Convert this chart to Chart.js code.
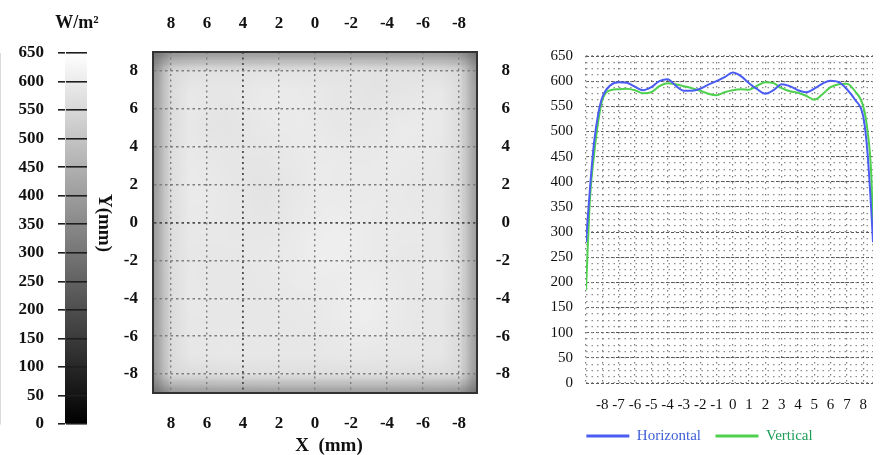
<!DOCTYPE html>
<html>
<head>
<meta charset="utf-8">
<script src="https://cdn.jsdelivr.net/npm/chart.js@4.4.1/dist/chart.umd.min.js"></script>
<style>
  html, body { margin: 0; padding: 0; background: #fff; }
  body { width: 880px; height: 455px; position: relative; overflow: hidden; }
  canvas { position: absolute; }
  #skala { left: 0; top: 0; }
  #mapa { left: 88px; top: 0; }
  #profil { left: 520px; top: 30px; }
</style>
</head>
<body>
<canvas id="skala" width="100" height="455"></canvas>
<canvas id="mapa" width="422" height="455"></canvas>
<canvas id="profil" width="360" height="425"></canvas>
<script>
// irradiance scale (W/m2)
const scaleMax = 650;
const scaleStep = 50;

// heat map, positions in mm, X runs 9 -> -9 (left to right), Y runs 9 -> -9 (top to bottom)
const mapTicks = [-8, -6, -4, -2, 0, 2, 4, 6, 8];
const mapX = [9, 8, 7, 6, 5, 4, 3, 2, 1, 0, -1, -2, -3, -4, -5, -6, -7, -8, -9];
const mapY = [9, 8, 7, 6, 5, 4, 3, 2, 1, 0, -1, -2, -3, -4, -5, -6, -7, -8, -9];
const mapValues = [
  [280, 370, 385, 390, 390, 392, 392, 392, 392, 392, 392, 392, 392, 392, 390, 390, 385, 370, 280],
  [370, 555, 570, 575, 575, 578, 580, 580, 580, 580, 580, 580, 580, 578, 578, 575, 570, 555, 370],
  [385, 560, 592, 590, 588, 592, 596, 598, 596, 594, 590, 586, 582, 582, 586, 590, 592, 562, 385],
  [388, 562, 594, 588, 584, 590, 596, 600, 598, 594, 590, 588, 586, 588, 592, 596, 594, 564, 388],
  [388, 564, 592, 584, 580, 586, 592, 596, 598, 596, 592, 590, 590, 594, 598, 598, 594, 564, 388],
  [390, 566, 594, 590, 586, 586, 588, 592, 596, 598, 596, 594, 594, 596, 598, 596, 592, 564, 390],
  [390, 566, 596, 594, 590, 586, 584, 588, 594, 598, 598, 596, 596, 598, 596, 594, 590, 564, 390],
  [390, 566, 598, 596, 592, 586, 580, 584, 592, 598, 600, 598, 596, 596, 594, 592, 590, 564, 390],
  [390, 566, 596, 596, 592, 588, 582, 586, 594, 600, 602, 600, 598, 596, 594, 592, 590, 564, 390],
  [390, 566, 594, 594, 592, 590, 588, 590, 596, 602, 606, 604, 600, 598, 596, 594, 592, 566, 390],
  [390, 566, 592, 592, 592, 592, 592, 594, 600, 606, 610, 606, 600, 596, 594, 594, 592, 566, 390],
  [390, 566, 592, 590, 590, 592, 594, 596, 600, 606, 608, 604, 598, 594, 592, 594, 594, 566, 390],
  [390, 564, 594, 590, 588, 590, 592, 594, 598, 600, 602, 604, 604, 600, 594, 594, 594, 566, 390],
  [388, 564, 594, 592, 588, 588, 590, 592, 594, 596, 600, 606, 608, 602, 594, 592, 592, 564, 388],
  [388, 562, 592, 592, 590, 588, 588, 590, 592, 594, 598, 604, 606, 600, 594, 590, 590, 562, 388],
  [386, 560, 590, 592, 592, 590, 588, 588, 590, 592, 594, 598, 598, 596, 592, 590, 588, 560, 386],
  [384, 558, 588, 590, 592, 592, 590, 588, 588, 590, 592, 592, 592, 590, 590, 588, 586, 558, 384],
  [370, 552, 560, 564, 566, 568, 568, 568, 568, 568, 568, 568, 568, 568, 566, 564, 560, 552, 370],
  [280, 370, 382, 386, 388, 388, 390, 390, 390, 390, 390, 390, 390, 390, 388, 386, 382, 370, 280]
];

// profiles through the centre of the spot
const profileTicks = [-9, -8, -7, -6, -5, -4, -3, -2, -1, 0, 1, 2, 3, 4, 5, 6, 7, 8];
const profileX = [-9, -8.75, -8.5, -8.25, -8, -7.5, -7, -6.5, -6, -5.5, -5, -4.5, -4, -3.5, -3, -2.5, -2, -1.5, -1, -0.5,
  0, 0.5, 1, 1.5, 2, 2.5, 3, 3.5, 4, 4.5, 5, 5.5, 6, 6.5, 7, 7.5, 8, 8.25, 8.5, 8.6];
const horizontal = [280, 390, 480, 535, 568, 592, 598, 597, 589, 582, 588, 600, 604, 591, 581, 581, 585, 593, 600, 608,
  617, 610, 596, 584, 575, 582, 594, 590, 582, 578, 585, 595, 601, 598, 584, 563, 530, 463, 340, 280];
const vertical = [185, 370, 455, 520, 562, 582, 584, 585, 582, 576, 578, 590, 596, 594, 590, 586, 581, 575, 572, 578,
  582, 584, 583, 591, 598, 596, 586, 580, 577, 571, 563, 574, 588, 594, 595, 580, 550, 505, 410, 300];
const seriesNames = ['Horizontal', 'Vertical'];
const seriesColors = ['#4b5cf2', '#4fd14f'];
const legendTextColors = ['#3f5fd6', '#1f9e5a'];

const serif = "'Liberation Serif', 'Times New Roman', serif";

function gray(v) {
  const c = Math.round(Math.max(0, Math.min(1, v / scaleMax)) * 255);
  return 'rgb(' + c + ',' + c + ',' + c + ')';
}

// free text drawn on top of a chart (units, axis names)
const freeText = {
  id: 'freeText',
  afterDraw(chart, args, opts) {
    const ctx = chart.ctx;
    (opts.items || []).forEach(t => {
      ctx.save();
      ctx.font = t.font;
      ctx.fillStyle = t.color || '#111';
      ctx.textAlign = 'center';
      ctx.textBaseline = 'middle';
      ctx.translate(t.x, t.y);
      if (t.rotate) ctx.rotate(t.rotate);
      ctx.fillText(t.text, 0, 0);
      ctx.restore();
    });
  }
};

//------------------------------ colour scale
new Chart(document.getElementById('skala'), {
  type: 'bar',
  data: {
    labels: [''],
    datasets: [{
      data: [scaleMax],
      backgroundColor: (c) => {
        const chart = c.chart;
        if (!chart.chartArea) return '#888';
        const y = chart.scales.y;
        const g = chart.ctx.createLinearGradient(0, y.getPixelForValue(0), 0, y.getPixelForValue(scaleMax));
        g.addColorStop(0, gray(0));
        g.addColorStop(1, gray(scaleMax));
        return g;
      },
      borderWidth: 0,
      barPercentage: 1,
      categoryPercentage: 1
    }]
  },
  options: {
    responsive: false,
    animation: false,
    devicePixelRatio: 1,
    layout: { padding: { top: 53, bottom: 31, right: 13, left: 0 } },
    scales: {
      x: { display: false },
      y: {
        min: 0, max: scaleMax,
        ticks: { stepSize: scaleStep, padding: 14, color: '#111', font: { family: serif, size: 17, weight: 'bold' } },
        grid: { color: '#1e1e1e', lineWidth: 1.6, tickLength: 7, z: 1 },
        border: { color: '#b5b5b5' },
        afterFit: (s) => { s.width = 65; }
      }
    },
    plugins: {
      legend: { display: false },
      tooltip: { enabled: false },
      freeText: { items: [{ text: 'W/m²', x: 77, y: 23, font: 'bold 18px ' + serif }] }
    }
  },
  plugins: [freeText]
});

//------------------------------ heat map
const heatImage = {
  id: 'heatImage',
  beforeDraw(chart) {
    const { ctx, chartArea, scales } = chart;
    const xs = scales.x, ys = scales.y;
    const nc = mapX.length, nr = mapY.length;
    const xa = xs.getPixelForValue(mapX[0]), xb = xs.getPixelForValue(mapX[nc - 1]);
    const ya = ys.getPixelForValue(mapY[0]), yb = ys.getPixelForValue(mapY[nr - 1]);
    const flipX = xa > xb, flipY = ya > yb;

    const off = document.createElement('canvas');
    off.width = nc; off.height = nr;
    const octx = off.getContext('2d');
    const img = octx.createImageData(nc, nr);
    for (let r = 0; r < nr; r++) {
      for (let c = 0; c < nc; c++) {
        const v = mapValues[flipY ? nr - 1 - r : r][flipX ? nc - 1 - c : c];
        const g = Math.round(Math.max(0, Math.min(1, v / scaleMax)) * 255);
        const k = (r * nc + c) * 4;
        img.data[k] = g; img.data[k + 1] = g; img.data[k + 2] = g; img.data[k + 3] = 255;
      }
    }
    octx.putImageData(img, 0, 0);

    const cw = Math.abs(xb - xa) / (nc - 1);
    const ch = Math.abs(yb - ya) / (nr - 1);
    ctx.save();
    ctx.beginPath();
    ctx.rect(chartArea.left, chartArea.top, chartArea.right - chartArea.left, chartArea.bottom - chartArea.top);
    ctx.clip();
    ctx.imageSmoothingEnabled = true;
    ctx.drawImage(off, Math.min(xa, xb) - cw / 2, Math.min(ya, yb) - ch / 2, cw * nc, ch * nr);
    ctx.restore();
  }
};

const mapFont = { family: serif, size: 17, weight: 'bold' };
const setMapTicks = (s) => { s.ticks = mapTicks.map(v => ({ value: v })); };

new Chart(document.getElementById('mapa'), {
  type: 'scatter',
  data: { datasets: [] },
  options: {
    responsive: false,
    animation: false,
    devicePixelRatio: 1,
    layout: { padding: 0 },
    scales: {
      x: {
        type: 'linear', position: 'bottom', min: -9, max: 9, reverse: true,
        afterBuildTicks: setMapTicks,
        ticks: { autoSkip: false, maxRotation: 0, padding: 20, color: '#111', font: mapFont },
        grid: {
          drawTicks: false,
          color: (c) => (c.tick && c.tick.value === 4) ? '#4e4e4e' : '#7e7e7e',
          lineWidth: (c) => (c.tick && c.tick.value === 4) ? 1.8 : 1.4
        },
        border: { color: '#333', width: 2, dash: [2, 3.5] },
        afterFit: (s) => { s.height = 62; }
      },
      xTop: {
        type: 'linear', position: 'top', min: -9, max: 9, reverse: true,
        afterBuildTicks: setMapTicks,
        ticks: { autoSkip: false, maxRotation: 0, padding: 18, color: '#111', font: mapFont },
        grid: { drawTicks: false, drawOnChartArea: false },
        border: { color: '#333', width: 2 },
        afterFit: (s) => { s.height = 52; }
      },
      y: {
        type: 'linear', position: 'left', min: -9, max: 9,
        afterBuildTicks: setMapTicks,
        ticks: { autoSkip: false, padding: 15, color: '#111', font: mapFont },
        grid: {
          drawTicks: false,
          color: (c) => (c.tick && c.tick.value === 0) ? '#4e4e4e' : '#7e7e7e',
          lineWidth: (c) => (c.tick && c.tick.value === 0) ? 1.8 : 1.4
        },
        border: { color: '#333', width: 2, dash: [2.5, 3] },
        afterFit: (s) => { s.width = 65; }
      },
      yRight: {
        type: 'linear', position: 'right', min: -9, max: 9,
        afterBuildTicks: setMapTicks,
        ticks: { autoSkip: false, padding: 15, crossAlign: 'far', color: '#111', font: mapFont },
        grid: { drawTicks: false, drawOnChartArea: false },
        border: { color: '#333', width: 2 },
        afterFit: (s) => { s.width = 33; }
      }
    },
    plugins: {
      legend: { display: false },
      tooltip: { enabled: false },
      freeText: {
        items: [
          { text: 'X  (mm)', x: 241, y: 446, font: 'bold 19px ' + serif },
          { text: 'Y(mm)', x: 16, y: 223, rotate: Math.PI / 2, font: 'bold 19px ' + serif }
        ]
      }
    }
  },
  plugins: [heatImage, freeText]
});

//------------------------------ profiles
const tickFont = { family: serif, size: 15 };

new Chart(document.getElementById('profil'), {
  type: 'line',
  data: {
    datasets: seriesNames.map((name, i) => ({
      label: name,
      data: profileX.map((x, k) => ({ x: x, y: (i === 0 ? horizontal : vertical)[k] })),
      borderColor: seriesColors[i],
      backgroundColor: seriesColors[i],
      borderWidth: 2,
      pointRadius: 0,
      cubicInterpolationMode: 'monotone'
    }))
  },
  options: {
    responsive: false,
    animation: false,
    devicePixelRatio: 1,
    layout: { padding: { left: 0, top: 26, right: 1, bottom: 1.5 } },
    scales: {
      x: {
        type: 'linear', min: -9, max: 8.6,
        afterBuildTicks: (s) => { s.ticks = profileTicks.map(v => ({ value: v })); },
        ticks: {
          autoSkip: false, maxRotation: 0, padding: 13, color: '#111', font: tickFont,
          callback: (v) => v === -9 ? '' : String(v)
        },
        grid: { drawTicks: false, color: '#7a7a7a', lineWidth: 1.2 },
        border: { display: false, dash: [1.5, 4.5] },
        afterFit: (s) => { s.height = 31; }
      },
      y: {
        min: 0, max: scaleMax,
        ticks: { stepSize: scaleStep, padding: 13, color: '#111', font: tickFont },
        grid: { drawTicks: false, color: '#555', lineWidth: 1 },
        border: { display: false, dash: [3, 2] },
        afterFit: (s) => { s.width = 66; }
      },
      yMinor: {
        position: 'right', min: 0, max: scaleMax,
        ticks: { stepSize: 12.5, display: false },
        grid: { drawTicks: false, color: '#8e8e8e', lineWidth: 1.2 },
        border: { display: false, dash: [1.5, 4] },
        afterFit: (s) => { s.width = 0; }
      }
    },
    plugins: {
      tooltip: { enabled: false },
      legend: {
        position: 'bottom',
        align: 'center',
        labels: {
          boxWidth: 43,
          boxHeight: 3,
          padding: 14.5,
          font: tickFont,
          generateLabels: (chart) => chart.data.datasets.map((ds, i) => ({
            text: ds.label,
            fillStyle: ds.borderColor,
            strokeStyle: ds.borderColor,
            lineWidth: 0,
            fontColor: legendTextColors[i],
            datasetIndex: i,
            hidden: false
          }))
        }
      }
    }
  }
});
</script>
</body>
</html>
